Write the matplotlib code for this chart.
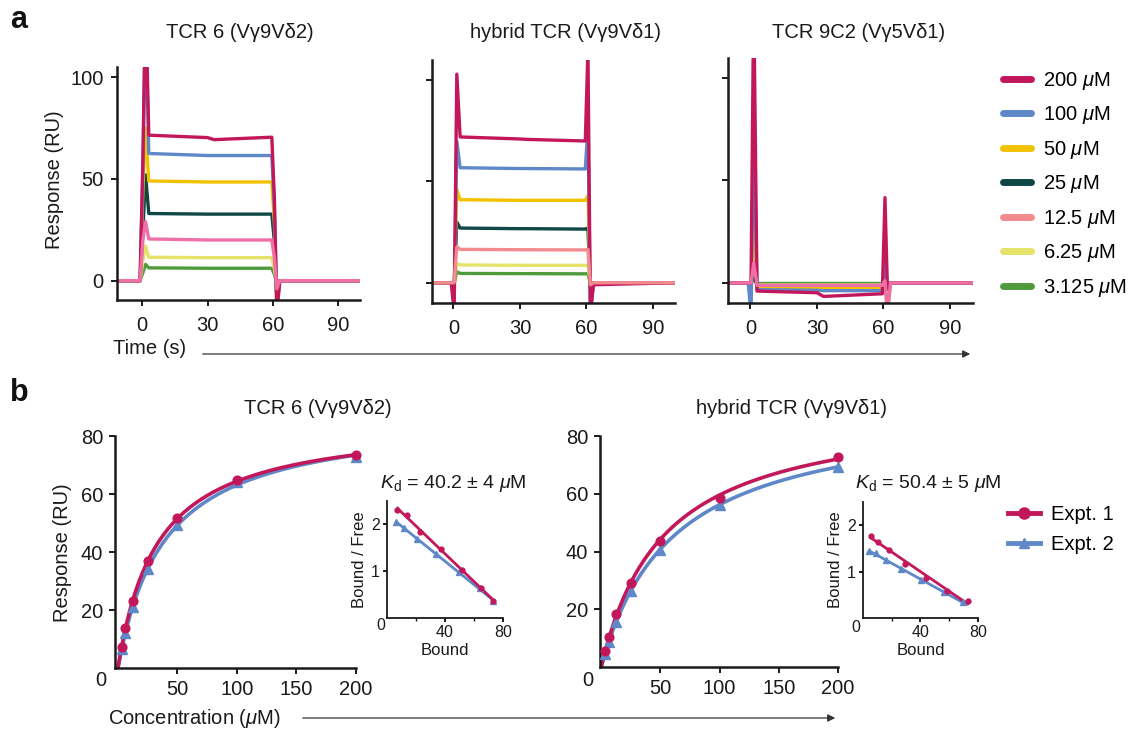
import numpy as np
import matplotlib
matplotlib.use("Agg")
import matplotlib.pyplot as plt
from matplotlib.lines import Line2D
from matplotlib.patches import FancyArrowPatch
from matplotlib.ticker import FixedLocator

plt.rcParams['font.family'] = ['Liberation Sans', 'DejaVu Sans']
plt.rcParams['mathtext.fontset'] = 'custom'
plt.rcParams['mathtext.rm'] = 'Liberation Sans'
plt.rcParams['mathtext.it'] = 'Liberation Sans:italic'
plt.rcParams['mathtext.bf'] = 'Liberation Sans:bold'

# ---------------------------------------------------------------- data
conc_labels = ['200 $\\mu$M', '100 $\\mu$M', '50 $\\mu$M', '25 $\\mu$M',
               '12.5 $\\mu$M', '6.25 $\\mu$M', '3.125 $\\mu$M']
conc_colors = ['#C2185B', '#5E88C8', '#F2C200', '#0F4646',
               '#F28A8E', '#E6E36A', '#4F9A3A']

# sensorgram sampling times (s)
t_knots = [-12, -1, 0.3, 1.5, 3, 30, 33, 59.5, 60.7, 61.8, 63.2, 100]

# responses (RU) at t_knots, one row per concentration (200 ... 3.125 uM)
resp_tcr6 = [
    [0, 0, 60, 140, 71.5, 70.3, 69.3, 70.5, 40, -15, 0, 0],
    [0, 0, 55, 130, 62.5, 61.5, 61.5, 61.5, 35, -12, 0, 0],
    [0, 0, 45, 75, 49, 48.5, 48.5, 48.5, 28, -15, 0, 0],
    [0, 0, 25, 52, 33, 32.7, 32.7, 32.7, 19, -8, 0, 0],
    [0, 0, 20, 29, 20.5, 20, 20, 20, 11, -4, 0, 0],
    [0, 0, 10, 17, 11.5, 11.3, 11.3, 11.3, 6, -2, 0, 0],
    [0, 0, 4, 8, 6.3, 6.1, 6.1, 6.1, 3, -1, 0, 0],
]
resp_hybrid = [
    [0, 0, -15, 103, 72, 71, 70.8, 70, 115, -15, -1, 0],
    [0, 0, -8, 70, 56.8, 56.4, 56.4, 56.2, 77, -15, 0, 0],
    [0, 0, -3, 46, 41, 40.7, 40.7, 40.7, 43, -6, 0, 0],
    [0, 0, -1, 30, 27, 26.7, 26.7, 26.5, 27, -3, 0, 0],
    [0, 0, 0, 17.7, 16.5, 16.3, 16.3, 16.2, 16.5, -1, 0, 0],
    [0, 0, 0, 9.5, 8.8, 8.6, 8.6, 8.6, 8.6, -0.5, 0, 0],
    [0, 0, 0, 5.5, 4.6, 4.5, 4.5, 4.4, 4.5, -0.3, 0, 0],
]
resp_9c2 = [
    [0, 0, 0, 140, -4, -4.8, -6.6, -5.3, 41.5, -3, 0, 0],
    [0, 0, -15, 78, -3.3, -3.6, -3.8, -3.8, 15, -3, 0, 0],
    [0, 0, -2, 31.5, -2.3, -2.3, -2.5, -2.5, 2, -15, 0, 0],
    [0, 0, -1, 5, -1.8, -1.8, -2, -2, 0, -2, 0, 0],
    [0, 0, 0, 9.6, -1.2, -1.2, -1.2, -1.2, 1, -15, 0, 0],
    [0, 0, 0, 3, -1, -1, -1, -1, 0, -1, 0, 0],
    [0, 0, 0, 2, -0.3, -0.3, -0.3, -0.3, 0, -0.5, 0, 0],
]

# equilibrium responses (RU) vs analyte concentration (uM)
conc_um = [3.125, 6.25, 12.5, 25, 50, 100, 200]
tcr6_expt1 = [7.2, 13.8, 23.0, 37.0, 51.7, 64.7, 73.3]
tcr6_expt2 = [6.4, 12.0, 21.0, 34.0, 49.4, 64.0, 72.8]
hybrid_expt1 = [5.5, 10.3, 18.4, 29.2, 43.6, 58.7, 72.8]
hybrid_expt2 = [4.5, 8.7, 15.7, 26.4, 40.5, 56.2, 69.4]
kd_labels = ['40.2 \u00b1 4', '50.4 \u00b1 5']

c_red = '#C2185B'
c_blue = '#5E88C8'

# ---------------------------------------------------------------- layout
W, H = 1147, 731
fig = plt.figure(figsize=(W / 100, H / 100), dpi=100)
ink = '#1a1a1a'
FS = 14.5


def box(x0, y0, x1, y1):
    return [x0 / W, 1 - y1 / H, (x1 - x0) / W, (y1 - y0) / H]


def fx(x):
    return x / W


def fy(y):
    return 1 - y / H


def style(ax, lw=1.8, fs=FS, length=4.5, pad=4):
    for s in ('top', 'right'):
        ax.spines[s].set_visible(False)
    for s in ('left', 'bottom'):
        ax.spines[s].set_linewidth(lw)
        ax.spines[s].set_color(ink)
    ax.tick_params(direction='out', length=length, width=1.4, colors=ink,
                   labelsize=fs, pad=pad)
    ax.patch.set_alpha(0)


# ---------------------------------------------------------------- panel a
sensor_axes = [
    (box(117, 67, 360, 300), (-11.6, 100), (-9.5, 105), resp_tcr6, 'TCR 6 (V\u03b39V\u03b42)', '#EE70A6'),
    (box(432, 60, 675, 303), (-9.7, 100), (-10, 110), resp_hybrid, 'hybrid TCR (V\u03b39V\u03b41)', '#F28A8E'),
    (box(728, 58, 973, 303), (-10.1, 100.4), (-9.8, 109.5), resp_9c2, 'TCR 9C2 (V\u03b35V\u03b41)', '#EE70A6'),
]
draw_order = [6, 5, 3, 2, 1, 0, 4]
for i, (rect, xl, yl, resp, title, pink) in enumerate(sensor_axes):
    ax = fig.add_axes(rect)
    for k in draw_order:
        col = pink if k == 4 else conc_colors[k]
        ax.plot(t_knots, resp[k], color=col, lw=2.4, solid_joinstyle='round')
    ax.set_xlim(*xl)
    ax.set_ylim(*yl)
    ax.set_xticks([0, 30, 60, 90])
    ax.set_yticks([0, 50, 100])
    style(ax, pad=5)
    ax.tick_params(axis='x', pad=7)
    if i > 0:
        ax.set_yticklabels([])

titles_a = [(240, 32), (565, 32), (859, 33)]
for (x, y), (_, _, _, _, title, _) in zip(titles_a, sensor_axes):
    fig.text(fx(x), fy(y), title, ha='center', va='center', fontsize=FS, color=ink)

fig.text(fx(55), fy(180), 'Response (RU)', rotation=90, ha='center', va='center',
         fontsize=FS, color=ink)
fig.text(fx(113), fy(349), 'Time (s)', ha='left', va='center', fontsize=FS, color=ink)
fig.add_artist(FancyArrowPatch((fx(200), fy(354)), (fx(973), fy(354)),
                               transform=fig.transFigure, arrowstyle='-|>',
                               mutation_scale=11, lw=0.9, color='#333333'))

handles_a = [Line2D([], [], color=c, lw=5, solid_capstyle='round') for c in conc_colors]
fig.legend(handles_a, conc_labels, loc='upper left',
           bbox_to_anchor=(fx(1003), fy(70)), frameon=False, fontsize=FS,
           handlelength=1.4, handletextpad=0.6, labelspacing=0.62,
           borderpad=0, borderaxespad=0)

fig.text(fx(10), fy(20), 'a', fontsize=22, fontweight='bold', ha='left', va='center', color='#111')
fig.text(fx(10), fy(393), 'b', fontsize=22, fontweight='bold', ha='left', va='center', color='#111')


# ---------------------------------------------------------------- panel b
def fit_one_site(c, r):
    c = np.asarray(c, float)
    r = np.asarray(r, float)
    best = (np.inf, 1.0, 1.0)
    for kd in np.linspace(1, 400, 4000):
        f = c / (kd + c)
        bmax = f @ r / (f @ f)
        err = np.sum((r - bmax * f) ** 2)
        if err < best[0]:
            best = (err, kd, bmax)
    return best[1], best[2]


binding_panels = [
    (box(115, 436, 356, 668), (-2.5, 200), tcr6_expt1, tcr6_expt2,
     box(387, 501, 503, 618), (380, 484), kd_labels[0], (101, 680), (381, 625),
     'TCR 6 (V\u03b39V\u03b42)', (318, 408)),
    (box(600, 436, 838, 667), (-1, 200), hybrid_expt1, hybrid_expt2,
     box(863, 502, 978, 618), (855, 484), kd_labels[1], (588, 680), (856, 627),
     'hybrid TCR (V\u03b39V\u03b41)', (792, 408)),
]

c_arr = np.asarray(conc_um, float)
c_line = np.linspace(0, 200, 300)
for rect, xl, e1, e2, irect, kdpos, kdtxt, zpos, izpos, title, tpos in binding_panels:
    ax = fig.add_axes(rect)
    ins = fig.add_axes(irect)
    for resp, col, mk, ms, ims in ((e2, c_blue, '^', 6.5, 4.0), (e1, c_red, 'o', 6.3, 3.5)):
        kd, bmax = fit_one_site(conc_um, resp)
        ax.plot(c_line, bmax * c_line / (kd + c_line), color=col, lw=2.6, zorder=2)
        ax.plot(conc_um, resp, ls='none', marker=mk, ms=ms, color=col, zorder=3,
                clip_on=False)
        bound = np.asarray(resp, float)
        ratio = bound / c_arr
        slope, icpt = np.polyfit(bound, ratio, 1)
        xs = np.array([bound.min(), bound.max()])
        ins.plot(xs, slope * xs + icpt, color=col, lw=2.0, zorder=2)
        ins.plot(bound, ratio, ls='none', marker=mk, ms=ims, color=col, zorder=3,
                 clip_on=False)
    ax.set_xlim(*xl)
    ax.set_ylim(0, 80)
    ax.set_xticks([50, 100, 150, 200])
    ax.set_yticks([20, 40, 60, 80])
    style(ax, pad=4)
    fig.text(fx(zpos[0]), fy(zpos[1]), '0', ha='center', va='center', fontsize=FS, color=ink)
    fig.text(fx(tpos[0]), fy(tpos[1]), title, ha='center', va='center', fontsize=FS, color=ink)

    ins.set_xlim(0, 80)
    ins.set_ylim(0, 2.5)
    ins.xaxis.set_major_locator(FixedLocator([40, 80]))
    ins.xaxis.set_minor_locator(FixedLocator([20, 60]))
    ins.yaxis.set_major_locator(FixedLocator([1, 2]))
    style(ins, lw=1.3, fs=11.5, length=3, pad=2)
    ins.tick_params(which='minor', direction='out', length=2.5, width=1.0, colors=ink)
    ins.set_xlabel('Bound', fontsize=12, color=ink, labelpad=2)
    ins.set_ylabel('Bound / Free', fontsize=12, color=ink, labelpad=3)
    fig.text(fx(izpos[0]), fy(izpos[1]), '0', ha='center', va='center', fontsize=11.5, color=ink)
    fig.text(fx(kdpos[0]), fy(kdpos[1]), '$K_{\\mathrm{d}}$ = ' + kdtxt + ' $\\mu$M',
             ha='left', va='center', fontsize=14, color=ink)

fig.text(fx(62), fy(553), 'Response (RU)', rotation=90, ha='center', va='center',
         fontsize=FS, color=ink)
fig.text(fx(108), fy(718), 'Concentration ($\\mu$M)', ha='left', va='center',
         fontsize=FS, color=ink)
fig.add_artist(FancyArrowPatch((fx(300), fy(718)), (fx(838), fy(718)),
                               transform=fig.transFigure, arrowstyle='-|>',
                               mutation_scale=11, lw=0.9, color='#333333'))

handles_b = [Line2D([], [], color=c_red, lw=3.5, marker='o', ms=8),
             Line2D([], [], color=c_blue, lw=3.5, marker='^', ms=7)]
fig.legend(handles_b, ['Expt. 1', 'Expt. 2'], loc='upper left',
           bbox_to_anchor=(fx(1008), fy(505)), frameon=False, fontsize=FS,
           handlelength=1.6, handletextpad=0.55, labelspacing=0.55,
           borderpad=0, borderaxespad=0)

fig.savefig('out.png', dpi=100)
